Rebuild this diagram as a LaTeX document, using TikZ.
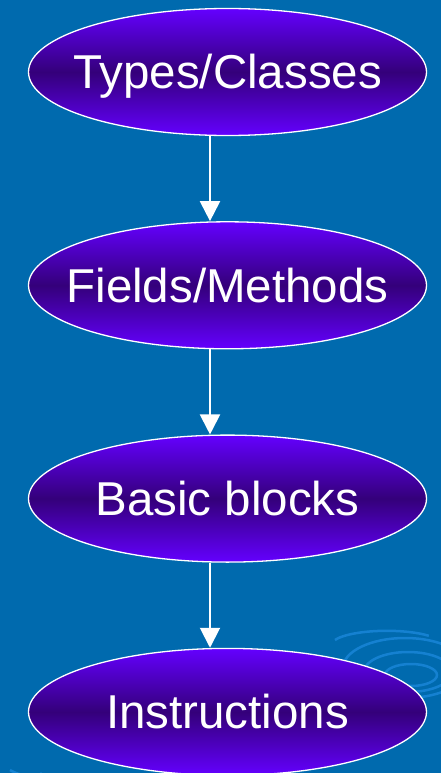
\documentclass[tikz,border=0pt]{standalone}
\usepackage{fontspec}
\setmainfont{Liberation Sans}
\usetikzlibrary{positioning, shapes.geometric, arrows.meta}

\definecolor{slidebg}{RGB}{0,106,174}
\definecolor{swirl}{RGB}{30,140,225}
\definecolor{violetlight}{RGB}{100,0,255}
\definecolor{violetdark}{RGB}{52,0,122}

% label with caps centred on the node, no width
\newcommand{\lbl}[1]{\makebox[0pt]{\raisebox{-17pt}[0pt][0pt]{#1}}}

\begin{document}
\begin{tikzpicture}[>=Stealth, x=1pt, y=1pt,
	level/.style={ellipse, draw=white, line width=1.3pt,
		minimum width=398pt, minimum height=127pt, inner sep=0pt,
		top color=violetlight, bottom color=violetlight, middle color=violetdark,
		text=white, font=\fontsize{47.5}{50}\selectfont},
	flow/.style={white, line width=2pt, -{Triangle[width=20pt, length=20pt]}}]
	\def\ax{-17.5}		% arrow offset from centre
	\def\gap{85pt}		% gap between ellipses

	% Background
	\fill[slidebg] (0,0) rectangle (441,-773);
	\useasboundingbox (0,0) rectangle (441,-773);

	% Swirl in the corner
	\begin{scope}[swirl, line width=2.5pt, opacity=.7]
		\draw (405,-668) ellipse (62 and 30);
		\draw (408,-672) ellipse (44 and 20);
		\draw (411,-675) ellipse (26 and 11);
		\draw (335,-640) arc (160:40:55 and 14);
		\draw (10,-770) arc (200:260:90 and 20);
		\draw (40,-773) arc (190:230:90 and 20);
	\end{scope}

	% Levels
	\node[level] (types) at (227.5,-72) {\lbl{Types/Classes}};
	\node[level, below=\gap of types] (fields) {\lbl{Fields/Methods}};
	\node[level, below=\gap of fields] (blocks) {\lbl{Basic blocks}};
	\node[level, below=\gap of blocks] (instr) {\lbl{Instructions}};

	% Arrows
	\draw[flow] ([xshift=\ax]types.south) -- ([xshift=\ax]fields.north);
	\draw[flow] ([xshift=\ax]fields.south) -- ([xshift=\ax]blocks.north);
	\draw[flow] ([xshift=\ax]blocks.south) -- ([xshift=\ax]instr.north);
\end{tikzpicture}
\end{document}
